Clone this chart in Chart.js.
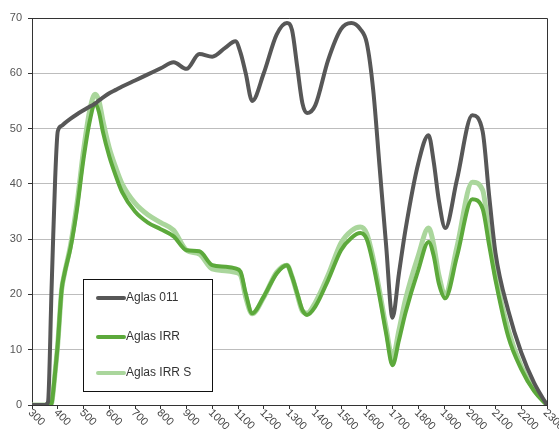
<!DOCTYPE html>
<html lang="en">
	<head>
		<meta charset="UTF-8" />
		<title>Aglas</title>
		<script src="https://cdn.jsdelivr.net/npm/chart.js"></script>
		<style>
			html, body { margin: 0; padding: 0; background: #fff; }
			#wrap { width: 559px; height: 433px; }
		</style>
	</head>
	<body>
		<div id="wrap"><canvas id="chart"></canvas></div>
		<script>
			// wavelength (nm), shared by all series
			const wavelengths = [300, 350, 362, 376, 380, 390, 400, 415, 425, 450, 475, 500, 525, 545, 560, 575, 600, 625, 650, 700, 750, 800, 850, 900, 950, 1000, 1050, 1090, 1110, 1130, 1155, 1200, 1250, 1290, 1310, 1330, 1350, 1368, 1400, 1450, 1500, 1540, 1575, 1600, 1625, 1650, 1675, 1700, 1725, 1750, 1800, 1840, 1860, 1880, 1905, 1950, 2010, 2050, 2075, 2100, 2150, 2200, 2250, 2300];

			const aglas011 = [0, 0, 0.5, 21, 27, 41, 49.5, 50.5, 50.9, 51.8, 52.6, 53.3, 54, 54.5, 55.1, 55.6, 56.4, 57, 57.6, 58.7, 59.8, 60.9, 62.0, 60.8, 63.5, 63.0, 64.6, 65.8, 63.7, 60, 55.0, 60, 67, 69.1, 67.8, 61.2, 54.6, 52.8, 54.2, 62.4, 68, 69.1, 68, 65.5, 57, 43, 29, 15.8, 23.8, 31.6, 43.7, 48.8, 44, 37, 32, 40.7, 52.4, 49.5, 38, 27.5, 17, 9.5, 4, 0];

			const aglasIRR = [0, 0, 0, 0.3, 1.5, 6, 11, 20.8, 23.5, 28.5, 35.5, 44.5, 51.5, 54.6, 53, 49.5, 45, 41.5, 38.5, 35, 33, 31.8, 30.5, 28, 27.8, 25.3, 25, 24.7, 24.1, 20.2, 16.6, 19.6, 23.8, 25.3, 23.2, 20.2, 17.2, 16.3, 17.8, 22.6, 28, 30.2, 31.1, 30, 25.5, 19.5, 13, 7.2, 11.7, 16.6, 24.4, 29.5, 27, 22, 19.3, 26.8, 37.2, 35.5, 29, 22.6, 12.3, 6.5, 2.5, 0];

			const aglasIRRS = [0, 0, 0, 0.3, 1.5, 6, 11, 20.8, 23.5, 29, 36.5, 46, 53.5, 56.2, 55, 51.5, 46.5, 43, 40, 36.5, 34.4, 33, 31.6, 28, 27.3, 24.6, 24.3, 24.0, 23.5, 19.5, 16.5, 19.5, 24, 25.3, 23.2, 20, 17, 16.6, 18.5, 23.5, 29.3, 31.5, 32.2, 31, 26.5, 20.5, 14, 8.5, 13.5, 19, 27, 32, 29, 23.5, 20.2, 28.5, 40.3, 38.9, 31, 23.5, 13.5, 7, 2.8, 0];

			const seriesNames = ["Aglas 011", "Aglas IRR", "Aglas IRR S"];
			const seriesColors = ["#575757", "#5ca93b", "#aad69c"];
			const seriesWidths = [4, 4, 5];
			const xTicks = [300, 400, 500, 600, 700, 800, 900, 1000, 1100, 1200, 1300, 1400, 1500, 1600, 1700, 1800, 1900, 2000, 2100, 2200, 2300];

			const fontFamily = "'Liberation Sans', Arial, sans-serif";

			function toPoints(values) {
				return values.map((v, i) => ({ x: wavelengths[i], y: v }));
			}

			// rotated x labels + frame + legend box
			const decorPlugin = {
				id: "decor",
				afterDraw(chart) {
					const ctx = chart.ctx;
					const area = chart.chartArea;
					const xs = chart.scales.x;

					// frame top / right
					ctx.save();
					ctx.strokeStyle = "#333";
					ctx.lineWidth = 1;
					ctx.beginPath();
					ctx.moveTo(area.left, area.top + 0.5);
					ctx.lineTo(area.right + 0.5, area.top + 0.5);
					ctx.lineTo(area.right + 0.5, area.bottom);
					ctx.stroke();

					// x labels, slanted down-right
					ctx.fillStyle = "#444";
					ctx.font = "11px " + fontFamily;
					ctx.textAlign = "left";
					ctx.textBaseline = "middle";
					xTicks.forEach((t) => {
						const px = xs.getPixelForValue(t);
						ctx.save();
						ctx.translate(px - 2, area.bottom + 6);
						ctx.rotate(Math.PI / 4);
						ctx.fillText(String(t), 0, 0);
						ctx.restore();
					});

					// legend
					const bx = 83, by = 279, bw = 129, bh = 112;
					ctx.fillStyle = "#fff";
					ctx.fillRect(bx, by, bw, bh);
					ctx.strokeStyle = "#111";
					ctx.strokeRect(bx + 0.5, by + 0.5, bw, bh);
					ctx.font = "12px " + fontFamily;
					const rows = [298, 337, 373];
					chart.data.datasets.forEach((ds, i) => {
						ctx.strokeStyle = ds.borderColor;
						ctx.lineWidth = 4;
						ctx.lineCap = "round";
						ctx.beginPath();
						ctx.moveTo(98, rows[i]);
						ctx.lineTo(124, rows[i]);
						ctx.stroke();
						ctx.fillStyle = "#333";
						ctx.fillText(ds.label, 126, rows[i]);
					});
					ctx.restore();
				},
			};

			new Chart(document.getElementById("chart"), {
				type: "line",
				data: {
					datasets: seriesNames.map((name, i) => ({
						label: name,
						data: toPoints([aglas011, aglasIRR, aglasIRRS][i]),
						borderColor: seriesColors[i],
						backgroundColor: seriesColors[i],
						borderWidth: seriesWidths[i],
						pointRadius: 0,
						cubicInterpolationMode: "monotone",
						borderCapStyle: "round",
						borderJoinStyle: "round",
						fill: false,
					})),
				},
				options: {
					responsive: true,
					maintainAspectRatio: false,
					animation: false,
					layout: { padding: { top: 18, right: 12, left: 0, bottom: 0 } },
					scales: {
						x: {
							type: "linear",
							min: 300,
							max: 2300,
							ticks: { display: false, stepSize: 100 },
							grid: { drawOnChartArea: false, drawTicks: true, tickLength: 4, color: "#333" },
							border: { color: "#333", width: 1 },
							afterFit(scale) {
								scale.height = 28;
							},
						},
						y: {
							min: 0,
							max: 70,
							ticks: { stepSize: 10, color: "#555", font: { size: 11, family: fontFamily }, padding: 6 },
							grid: { color: "#bdbdbd", tickLength: 4, tickColor: "#333" },
							border: { color: "#333", width: 1 },
							afterFit(scale) {
								scale.width = 32;
							},
						},
					},
					plugins: {
						legend: { display: false },
						tooltip: { enabled: false },
					},
				},
				plugins: [decorPlugin],
			});
		</script>
	</body>
</html>
